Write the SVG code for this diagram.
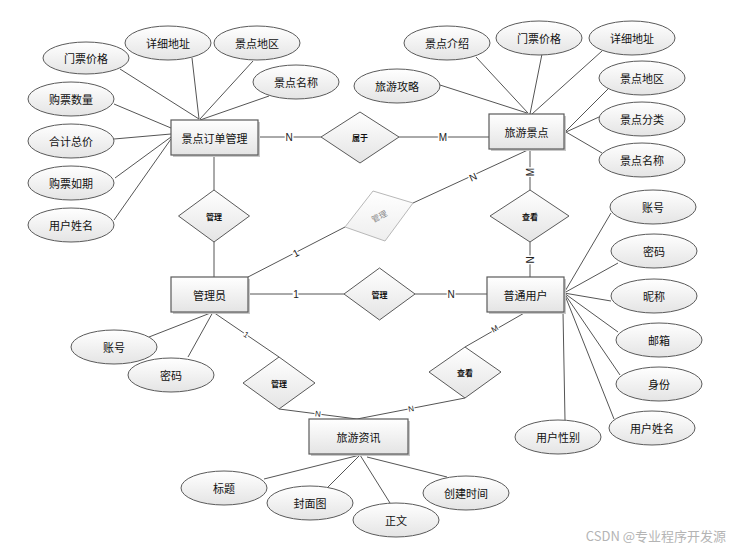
<svg xmlns="http://www.w3.org/2000/svg" width="736" height="548" viewBox="0 0 736 548">
<defs>
<linearGradient id="g" x1="0" y1="0" x2="0" y2="1"><stop offset="0" stop-color="#ffffff"/><stop offset="1" stop-color="#e4e4e4"/></linearGradient>
<linearGradient id="gg" x1="0" y1="0" x2="0" y2="1"><stop offset="0" stop-color="#ffffff"/><stop offset="1" stop-color="#eeeeee"/></linearGradient>
<style>
.e{fill:url(#g);stroke:#5a5a5a;stroke-width:1}
.r{fill:url(#g);stroke:#5a5a5a;stroke-width:1.2}
.sh{fill:#c8c8c8}
.d{fill:url(#g);stroke:#5a5a5a;stroke-width:1}
.t{font-family:"Noto Sans CJK SC","Liberation Sans",sans-serif;font-size:11px;fill:#111;text-anchor:middle;dominant-baseline:central}
.dt{font-family:"Noto Sans CJK SC","Liberation Sans",sans-serif;font-size:8px;font-weight:bold;fill:#111;text-anchor:middle;dominant-baseline:central}
.c line{stroke:#555;stroke-width:1}
.lb{font-family:"Liberation Sans",sans-serif;font-size:10px;fill:#222;text-anchor:middle;dominant-baseline:central;stroke:#fff;stroke-width:3;paint-order:stroke}
.lbs{font-family:"Liberation Sans",sans-serif;font-size:8px;fill:#222;text-anchor:middle;dominant-baseline:central;stroke:#fff;stroke-width:2.5;paint-order:stroke}
</style>
</defs>
<rect width="736" height="548" fill="#fff"/>
<g class="c" id="connectors">
<line x1="120" y1="69" x2="199" y2="119"/>
<line x1="192" y1="58" x2="199" y2="119"/>
<line x1="253" y1="61" x2="200" y2="119"/>
<line x1="269" y1="96" x2="200" y2="120"/>
<line x1="114" y1="104" x2="171" y2="128"/>
<line x1="114" y1="139" x2="171" y2="134"/>
<line x1="115" y1="178" x2="171" y2="137"/>
<line x1="114" y1="220" x2="171" y2="139"/>
<line x1="258" y1="137" x2="321" y2="137"/>
<line x1="214" y1="155" x2="214" y2="190"/>
<line x1="399" y1="137" x2="489" y2="137"/>
<line x1="440" y1="85" x2="527" y2="113"/>
<line x1="476" y1="57" x2="528" y2="113"/>
<line x1="542" y1="54" x2="530" y2="114"/>
<line x1="602" y1="51" x2="532" y2="114"/>
<line x1="608" y1="89" x2="566" y2="131"/>
<line x1="599" y1="117" x2="566" y2="132"/>
<line x1="602" y1="153" x2="566" y2="132"/>
<line x1="530" y1="149" x2="530" y2="190"/>
<line x1="530" y1="149" x2="413" y2="203"/>
<line x1="214" y1="242" x2="214" y2="277"/>
<line x1="248" y1="277" x2="345" y2="227"/>
<line x1="248" y1="294" x2="344" y2="294"/>
<line x1="149" y1="337" x2="213" y2="312"/>
<line x1="188" y1="357" x2="213" y2="312"/>
<line x1="213" y1="312" x2="279" y2="357"/>
<line x1="415" y1="294" x2="487" y2="294"/>
<line x1="530" y1="242" x2="530" y2="277"/>
<line x1="564" y1="293" x2="611" y2="213"/>
<line x1="564" y1="293" x2="618" y2="263"/>
<line x1="564" y1="293" x2="611" y2="301"/>
<line x1="564" y1="293" x2="618" y2="332"/>
<line x1="564" y1="293" x2="620" y2="375"/>
<line x1="564" y1="293" x2="614" y2="419"/>
<line x1="563" y1="312" x2="565" y2="420"/>
<line x1="526" y1="312" x2="465" y2="347"/>
<line x1="279" y1="409" x2="357" y2="419"/>
<line x1="465" y1="398" x2="357" y2="419"/>
<line x1="360" y1="455" x2="264" y2="479"/>
<line x1="360" y1="455" x2="328" y2="487"/>
<line x1="360" y1="455" x2="390" y2="503"/>
<line x1="367" y1="457" x2="447" y2="477"/>
<text class="lb" x="289" y="137">N</text>
<text class="lb" x="443" y="137">M</text>
<text class="lb" transform="translate(530,172) rotate(-90)">M</text>
<text class="lb" transform="translate(473,177) rotate(-25)">N</text>
<text class="lb" transform="translate(296,253) rotate(-27)">1</text>
<text class="lb" x="296" y="294">1</text>
<text class="lbs" transform="translate(246,335) rotate(34)">1</text>
<text class="lb" x="451" y="294">N</text>
<text class="lb" transform="translate(530,260) rotate(-90)">N</text>
<text class="lbs" transform="translate(495,329) rotate(-30)">M</text>
<text class="lbs" transform="translate(318,414) rotate(7)">N</text>
<text class="lbs" transform="translate(411,409) rotate(-11)">N</text>
</g>
<g id="order"><rect class="sh" x="173" y="122" width="87" height="35"/><rect class="r" x="171" y="120" width="87" height="35"/><text class="t" x="214.5" y="137.5">景点订单管理</text></g>
<g id="spot"><rect class="sh" x="491" y="116" width="75" height="35"/><rect class="r" x="489" y="114" width="75" height="35"/><text class="t" x="526.5" y="131.5">旅游景点</text></g>
<g id="admin"><rect class="sh" x="173" y="279" width="77" height="35"/><rect class="r" x="171" y="277" width="77" height="35"/><text class="t" x="209.5" y="294.5">管理员</text></g>
<g id="user"><rect class="sh" x="489" y="279" width="77" height="35"/><rect class="r" x="487" y="277" width="77" height="35"/><text class="t" x="525.5" y="294.5">普通用户</text></g>
<g id="news"><rect class="sh" x="311" y="421" width="99" height="35"/><rect class="r" x="309" y="419" width="99" height="35"/><text class="t" x="358.5" y="436.5">旅游资讯</text></g>
<g id="rel-belong"><polygon class="d" points="321,137 360,112 399,137 360,163"/><text class="dt" x="360" y="137">属于</text></g>
<g id="rel-manage1"><polygon class="d" points="178.5,216 214,190 249.5,216 214,242"/><text class="dt" x="214" y="216">管理</text></g>
<g id="rel-view1"><polygon class="d" points="490,216 530,190 569,216 530,242"/><text class="dt" x="530" y="216">查看</text></g>
<g id="rel-manage2"><polygon class="d" points="344,294 379.5,268 415,294 379.5,320"/><text class="dt" x="379.5" y="294">管理</text></g>
<g id="rel-view2"><polygon class="d" points="429,372 465,347 501,372 465,398"/><text class="dt" x="465" y="372">查看</text></g>
<g id="rel-manage3"><polygon class="d" points="243,383 279,357 315,383 279,409"/><text class="dt" x="279" y="383">管理</text></g>
<g id="rel-manage-gray"><polygon points="373,191 413,203 385,241 345,227" fill="url(#gg)" stroke="#b8b8b8" stroke-width="1"/><text class="dt" fill="#777" style="fill:#888;font-weight:normal" transform="translate(379,216) rotate(-28)">管理</text></g>
<g id="a-o1"><ellipse class="e" cx="86" cy="58" rx="43" ry="16"/><text class="t" x="86" y="58">门票价格</text></g>
<g id="a-o2"><ellipse class="e" cx="168" cy="43" rx="43" ry="17"/><text class="t" x="168" y="43">详细地址</text></g>
<g id="a-o3"><ellipse class="e" cx="257" cy="43" rx="43" ry="17"/><text class="t" x="257" y="43">景点地区</text></g>
<g id="a-o4"><ellipse class="e" cx="296" cy="82" rx="43" ry="17"/><text class="t" x="296" y="82">景点名称</text></g>
<g id="a-o5"><ellipse class="e" cx="71" cy="99" rx="43" ry="17"/><text class="t" x="71" y="99">购票数量</text></g>
<g id="a-o6"><ellipse class="e" cx="71" cy="141" rx="43" ry="17"/><text class="t" x="71" y="141">合计总价</text></g>
<g id="a-o7"><ellipse class="e" cx="71" cy="183" rx="43" ry="17"/><text class="t" x="71" y="183">购票如期</text></g>
<g id="a-o8"><ellipse class="e" cx="71" cy="225" rx="43" ry="17"/><text class="t" x="71" y="225">用户姓名</text></g>
<g id="a-s1"><ellipse class="e" cx="447" cy="43" rx="43" ry="17"/><text class="t" x="447" y="43">景点介绍</text></g>
<g id="a-s2"><ellipse class="e" cx="539" cy="38" rx="43" ry="17"/><text class="t" x="539" y="38">门票价格</text></g>
<g id="a-s3"><ellipse class="e" cx="632" cy="38" rx="43" ry="17"/><text class="t" x="632" y="38">详细地址</text></g>
<g id="a-s4"><ellipse class="e" cx="397" cy="86" rx="43" ry="17"/><text class="t" x="397" y="86">旅游攻略</text></g>
<g id="a-s5"><ellipse class="e" cx="642" cy="78" rx="43" ry="17"/><text class="t" x="642" y="78">景点地区</text></g>
<g id="a-s6"><ellipse class="e" cx="642" cy="119" rx="43" ry="17"/><text class="t" x="642" y="119">景点分类</text></g>
<g id="a-s7"><ellipse class="e" cx="642" cy="160" rx="43" ry="17"/><text class="t" x="642" y="160">景点名称</text></g>
<g id="a-u1"><ellipse class="e" cx="653" cy="207" rx="43" ry="17"/><text class="t" x="653" y="207">账号</text></g>
<g id="a-u2"><ellipse class="e" cx="654" cy="251" rx="43" ry="17"/><text class="t" x="654" y="251">密码</text></g>
<g id="a-u3"><ellipse class="e" cx="654" cy="296" rx="43" ry="17"/><text class="t" x="654" y="296">昵称</text></g>
<g id="a-u4"><ellipse class="e" cx="659" cy="340" rx="43" ry="17"/><text class="t" x="659" y="340">邮箱</text></g>
<g id="a-u5"><ellipse class="e" cx="659" cy="384" rx="43" ry="17"/><text class="t" x="659" y="384">身份</text></g>
<g id="a-u6"><ellipse class="e" cx="652" cy="428" rx="43" ry="17"/><text class="t" x="652" y="428">用户姓名</text></g>
<g id="a-u7"><ellipse class="e" cx="558" cy="437" rx="43" ry="17"/><text class="t" x="558" y="437">用户性别</text></g>
<g id="a-a1"><ellipse class="e" cx="114" cy="347" rx="43" ry="17"/><text class="t" x="114" y="347">账号</text></g>
<g id="a-a2"><ellipse class="e" cx="171" cy="375" rx="43" ry="17"/><text class="t" x="171" y="375">密码</text></g>
<g id="a-n1"><ellipse class="e" cx="224" cy="488" rx="43" ry="17"/><text class="t" x="224" y="488">标题</text></g>
<g id="a-n2"><ellipse class="e" cx="310" cy="503" rx="43" ry="17"/><text class="t" x="310" y="503">封面图</text></g>
<g id="a-n3"><ellipse class="e" cx="396" cy="520" rx="43" ry="17"/><text class="t" x="396" y="520">正文</text></g>
<g id="a-n4"><ellipse class="e" cx="466" cy="493" rx="43" ry="17"/><text class="t" x="466" y="493">创建时间</text></g>
<text x="726" y="535" text-anchor="end" font-family="Noto Sans CJK SC, Liberation Sans, sans-serif" font-size="13" fill="#b4b4b4" dominant-baseline="central">CSDN @专业程序开发源</text>
</svg>
